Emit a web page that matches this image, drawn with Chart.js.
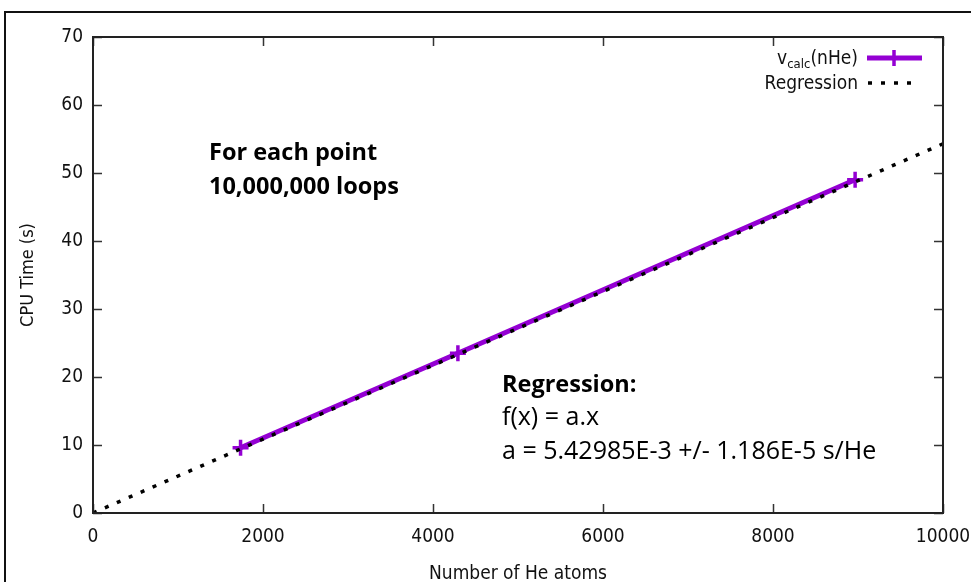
<!DOCTYPE html>
<html><head><meta charset="utf-8">
<script src="https://cdn.jsdelivr.net/npm/chart.js@4.4.1/dist/chart.umd.min.js"></script>
<style>
html,body{margin:0;padding:0;background:#fff;overflow:hidden}
#wrap{position:relative;width:971px;height:582px;overflow:hidden}
#frame{position:absolute;left:4px;top:11px;width:1200px;height:1200px;border:2px solid #111;box-sizing:border-box}
canvas{position:absolute;left:0;top:0}
</style></head><body>
<div id="wrap"><div id="frame"></div><canvas id="c" width="971" height="582"></canvas></div>
<script>
// ---- data ----
const nHe = [1736, 4293, 8966];
const cpuTime = [9.6, 23.5, 49.0];
const regX = [0, 10000];
const regY = [0, 54.3];
const xTicks = [0, 2000, 4000, 6000, 8000, 10000];
const yTicks = [0, 10, 20, 30, 40, 50, 60, 70];
const seriesLabels = ['v_calc(nHe)', 'Regression'];
const xTitle = 'Number of He atoms';
const yTitle = 'CPU Time (s)';
const noteTopBold = ['For each point', '10,000,000 loops'];
const noteRegBold = 'Regression:';
const noteRegLines = ['f(x) = a.x', 'a = 5.42985E-3 +/- 1.186E-5 s/He'];

const PURPLE = '#9400d3';
const TICKFONT = '"DejaVu Sans Condensed", "DejaVu Sans", sans-serif';
const NOTEFONT = '"Open Sans", Lato, sans-serif';

const decor = {
  id: 'decor',
  afterDraw(chart) {
    const ctx = chart.ctx;
    const a = chart.chartArea;
    const xs = chart.scales.x, ys = chart.scales.y;
    ctx.save();
    // inward ticks
    ctx.strokeStyle = '#333';
    ctx.lineWidth = 1.5;
    const TL = 9;
    ctx.beginPath();
    xs.ticks.forEach(t => {
      const px = Math.round(xs.getPixelForValue(t.value)) + 0.5;
      ctx.moveTo(px, a.bottom); ctx.lineTo(px, a.bottom - TL);
      ctx.moveTo(px, a.top); ctx.lineTo(px, a.top + TL);
    });
    ys.ticks.forEach(t => {
      const py = Math.round(ys.getPixelForValue(t.value)) + 0.5;
      ctx.moveTo(a.left, py); ctx.lineTo(a.left + TL, py);
      ctx.moveTo(a.right, py); ctx.lineTo(a.right - TL, py);
    });
    ctx.stroke();
    // box
    ctx.lineWidth = 2;
    ctx.strokeStyle = '#222';
    ctx.strokeRect(a.left, a.top, a.right - a.left, a.bottom - a.top);

    // legend
    const rx = 858;
    ctx.fillStyle = '#111';
    ctx.textBaseline = 'alphabetic';
    const big = '19px ' + TICKFONT, small = '13px ' + TICKFONT;
    const parts = seriesLabels[0].match(/^(.*)_(\w+?)(\(.*\))$/);
    ctx.font = big; const w1 = ctx.measureText(parts[1]).width; const w3 = ctx.measureText(parts[3]).width;
    ctx.font = small; const w2 = ctx.measureText(parts[2]).width;
    let sx = rx - (w1 + w2 + w3);
    const b1 = 64;
    ctx.font = big; ctx.fillText(parts[1], sx, b1); sx += w1;
    ctx.font = small; ctx.fillText(parts[2], sx, b1 + 4); sx += w2;
    ctx.font = big; ctx.fillText(parts[3], sx, b1);
    ctx.textAlign = 'right';
    ctx.fillText(seriesLabels[1], rx, 89);
    // legend samples
    ctx.strokeStyle = PURPLE; ctx.lineWidth = 5;
    ctx.beginPath(); ctx.moveTo(867, 58); ctx.lineTo(922, 58); ctx.stroke();
    ctx.lineWidth = 3.5;
    ctx.beginPath(); ctx.moveTo(894, 50); ctx.lineTo(894, 66); ctx.moveTo(886, 58); ctx.lineTo(902, 58); ctx.stroke();
    ctx.strokeStyle = '#000'; ctx.lineWidth = 3.5; ctx.setLineDash([4, 9]);
    ctx.beginPath(); ctx.moveTo(868, 83); ctx.lineTo(914, 83); ctx.stroke();
    ctx.setLineDash([]);

    // annotations
    ctx.textAlign = 'left';
    ctx.fillStyle = '#000';
    ctx.font = 'bold 23.5px ' + NOTEFONT;
    ctx.fillText(noteTopBold[0], 209, 160);
    ctx.fillText(noteTopBold[1], 209, 194);
    ctx.fillText(noteRegBold, 502, 392);
    ctx.font = '25px ' + NOTEFONT;
    ctx.fillText(noteRegLines[0], 502, 425);
    ctx.fillText(noteRegLines[1], 502, 459);
    ctx.restore();
  }
};

new Chart(document.getElementById('c'), {
  type: 'scatter',
  data: {
    datasets: [
      {
        label: seriesLabels[1],
        data: regX.map((x, i) => ({x, y: regY[i]})),
        showLine: true,
        borderColor: '#000',
        borderWidth: 3.5,
        borderDash: [4, 9],
        pointRadius: 0,
        fill: false,
        order: 0
      },
      {
        label: seriesLabels[0],
        data: nHe.map((x, i) => ({x, y: cpuTime[i]})),
        showLine: true,
        borderColor: PURPLE,
        backgroundColor: PURPLE,
        borderWidth: 5,
        pointStyle: 'cross',
        pointRadius: 8,
        pointBorderWidth: 3.5,
        pointBorderColor: PURPLE,
        fill: false,
        order: 1
      }
    ]
  },
  options: {
    responsive: false,
    animation: false,
    devicePixelRatio: 1,
    layout: { padding: { top: 37, right: 28, left: 0, bottom: 0 } },
    plugins: { legend: { display: false }, tooltip: { enabled: false } },
    scales: {
      x: {
        type: 'linear', min: 0, max: 10000,
        afterBuildTicks: s => { s.ticks = xTicks.map(v => ({value: v})); },
        afterFit: s => { s.height = 69; s.paddingLeft = 0; s.paddingRight = 0; },
        grid: { display: false, drawTicks: false },
        border: { display: false },
        ticks: { color: '#111', padding: 13, maxRotation: 0, callback: v => String(v), font: { size: 19, family: TICKFONT } },
        title: { display: true, text: xTitle, color: '#111', padding: { top: 0, bottom: -3 }, font: { size: 19, family: TICKFONT } }
      },
      y: {
        type: 'linear', min: 0, max: 70,
        afterBuildTicks: s => { s.ticks = yTicks.map(v => ({value: v})); },
        afterFit: s => { s.width = 93; s.paddingTop = 0; s.paddingBottom = 0; },
        grid: { display: false, drawTicks: false },
        border: { display: false },
        ticks: { color: '#111', padding: 10, callback: v => String(v), font: { size: 19, family: TICKFONT } },
        title: { display: true, text: yTitle, color: '#111', padding: { top: 18, bottom: 0 }, font: { size: 18, family: TICKFONT } }
      }
    }
  },
  plugins: [decor]
});
</script>
</body></html>
